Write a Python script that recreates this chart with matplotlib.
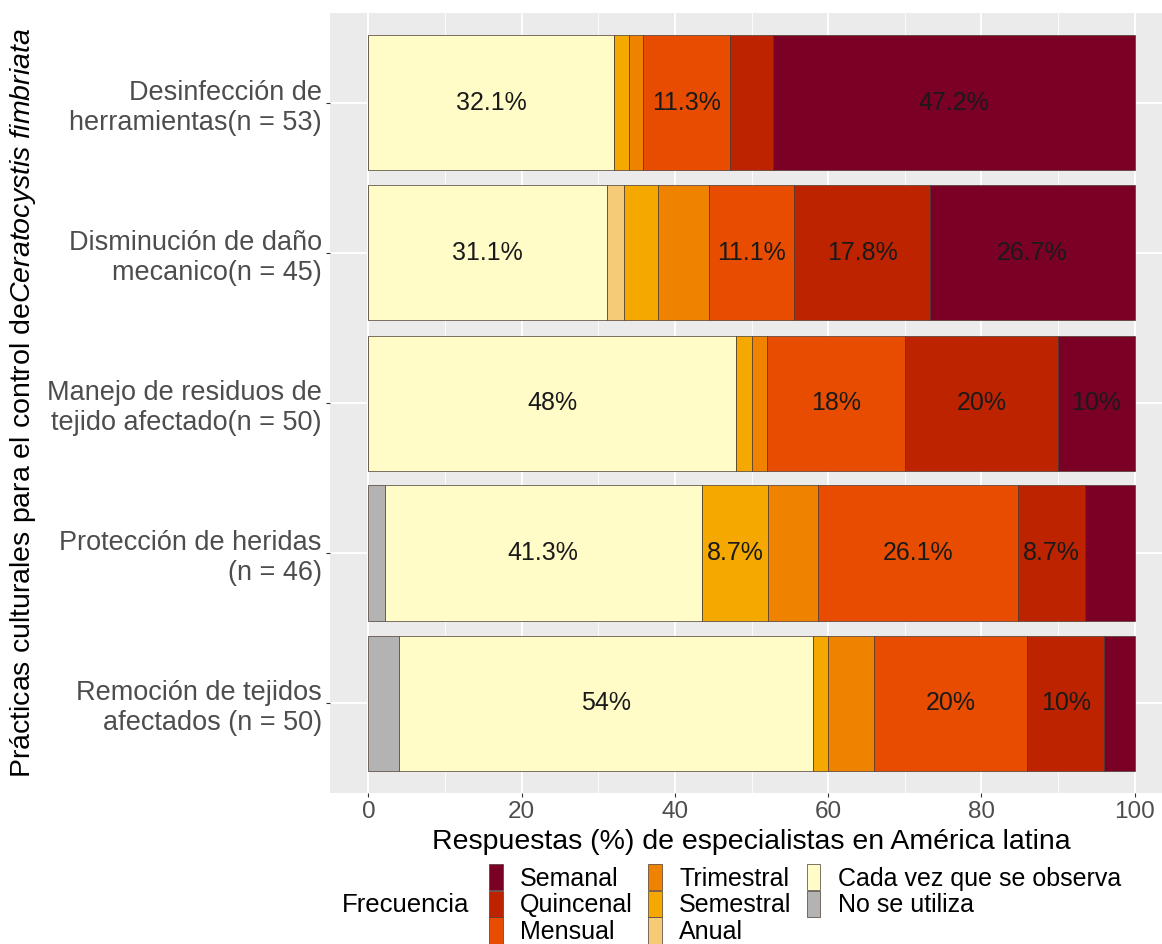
import numpy as np
import matplotlib
matplotlib.use("Agg")
import matplotlib.pyplot as plt
from matplotlib.patches import Patch

plt.rcParams['font.family'] = ['Liberation Sans', 'DejaVu Sans']
plt.rcParams['mathtext.fontset'] = 'custom'
plt.rcParams['mathtext.rm'] = 'Liberation Sans'
plt.rcParams['mathtext.it'] = 'Liberation Sans:italic'

# practices, top to bottom
practices = [
    "Desinfección de\nherramientas(n = 53)",
    "Disminución de daño\nmecanico(n = 45)",
    "Manejo de residuos de\ntejido afectado(n = 50)",
    "Protección de heridas\n(n = 46)",
    "Remoción de tejidos\nafectados (n = 50)",
]
n_resp = [53, 45, 50, 46, 50]

# stacking order, left to right
freq_levels = ["No se utiliza", "Cada vez que se observa", "Anual", "Semestral",
               "Trimestral", "Mensual", "Quincenal", "Semanal"]
freq_colors = ["#B3B3B3", "#FFFCC8", "#F6CB78", "#F5A900",
               "#EF8300", "#E84C00", "#BE2300", "#7A0026"]

# answer counts per practice (same order as freq_levels)
counts = {
    "No se utiliza":           [0, 0, 0, 1, 2],
    "Cada vez que se observa": [17, 14, 24, 19, 27],
    "Anual":                   [0, 1, 0, 0, 0],
    "Semestral":               [1, 2, 1, 4, 1],
    "Trimestral":              [1, 3, 1, 3, 3],
    "Mensual":                 [6, 5, 9, 12, 10],
    "Quincenal":               [3, 8, 10, 4, 5],
    "Semanal":                 [25, 12, 5, 3, 2],
}

legend_order = ["Semanal", "Quincenal", "Mensual", "Trimestral", "Semestral",
                "Anual", "Cada vez que se observa", "No se utiliza"]

x_ticks = [0, 20, 40, 60, 80, 100]


def fmt_pct(v):
    s = f"{v:.1f}"
    if s.endswith(".0"):
        s = s[:-2]
    return s + "%"


fig = plt.figure(figsize=(11.62, 9.44), dpi=100)
ax = fig.add_axes([330 / 1162, 1 - 793 / 944, 843 / 1162, 780 / 944])
ax.set_facecolor('#EBEBEB')

ypos = np.arange(len(practices))
n_arr = np.array(n_resp, dtype=float)
left = np.zeros(len(practices))
for lev, col in zip(freq_levels, freq_colors):
    pct = np.array(counts[lev]) / n_arr * 100
    ax.barh(ypos, pct, left=left, height=0.9, color=col,
            edgecolor='#4A3A30', linewidth=0.5, zorder=3)
    for i, v in enumerate(pct):
        if v > 7:
            ax.text(left[i] + v / 2, ypos[i], fmt_pct(v), ha='center', va='center',
                    fontsize=18, color='#1A1A1A', zorder=4)
    left += pct

ax.set_xlim(-5, 105)
ax.set_ylim(len(practices) - 0.4, -0.6)
ax.set_xticks(x_ticks)
ax.set_xticks([10, 30, 50, 70, 90], minor=True)
ax.set_yticks(ypos)
ax.set_yticklabels(practices)
ax.grid(True, which='major', color='white', linewidth=1.3, zorder=0)
ax.grid(True, which='minor', axis='x', color='white', linewidth=0.6, zorder=0)
ax.set_axisbelow(True)
for sp in ax.spines.values():
    sp.set_visible(False)
ax.tick_params(axis='both', which='major', length=3, color='#333333',
               labelcolor='#4D4D4D')
ax.tick_params(axis='x', labelsize=17.5, pad=3)
ax.tick_params(axis='y', labelsize=19.5, pad=3)
ax.tick_params(which='minor', length=0)

ax.set_xlabel("Respuestas (%) de especialistas en América latina", fontsize=20.5,
              labelpad=4)
ax.set_ylabel(r"Prácticas culturales para el control de$\it{Ceratocystis\ fimbriata}$",
              fontsize=20.5, labelpad=6)

# legend
handles = [Patch(facecolor=freq_colors[freq_levels.index(l)], edgecolor='#4A3A30',
                 linewidth=0.5) for l in legend_order]
fig.legend(handles, legend_order, loc='upper left',
           bbox_to_anchor=(489 / 1162, 1 - 864 / 944), ncol=3, frameon=False,
           fontsize=18, handlelength=0.55, handleheight=1.25, handletextpad=0.7,
           columnspacing=0.6, labelspacing=0.0, borderpad=0, borderaxespad=0)
fig.text(342 / 1162, 1 - 912 / 944, "Frecuencia", fontsize=18.5, va='baseline',
         ha='left', color='black')

plt.savefig('out.png', dpi=100)
